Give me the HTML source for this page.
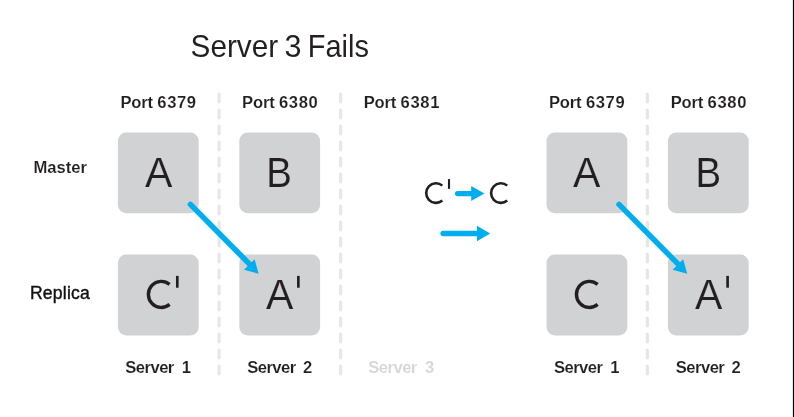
<!DOCTYPE html>
<html>
<head>
<meta charset="utf-8">
<title>Server 3 Fails</title>
<style>
  html, body { margin: 0; padding: 0; background: #ffffff; }
  body { width: 794px; height: 417px; overflow: hidden; }
  svg { display: block; will-change: transform; }
  text { font-family: "Liberation Sans", sans-serif; fill: #231f20; }
  .b { font-weight: bold; font-size: 16.6px; stroke: #ffffff; stroke-width: 0.12px; }
  .big { font-size: 40px; stroke: #d1d2d4; stroke-width: 0.12px; }
  .mid { font-size: 30px; stroke: #ffffff; stroke-width: 0.25px; }
  .box { fill: #d1d2d4; }
  .dash { stroke: #e6e7e8; stroke-width: 3.3; stroke-linecap: round; stroke-dasharray: 7.7 8.3; fill: none; }
  .arr { stroke: #00aeef; stroke-width: 5.3; stroke-linecap: round; fill: none; }
  .head { fill: #00aeef; }
  .prime { stroke: #231f20; stroke-width: 2.6; fill: none; }
  .dead { fill: #d5d6d8; }
</style>
</head>
<body>
<svg width="794" height="417" viewBox="0 0 794 417">
  <rect x="0" y="0" width="794" height="417" fill="#ffffff"/>

  <!-- title -->
  <text x="190.6" y="56.5" font-size="30.5" textLength="87.6" lengthAdjust="spacingAndGlyphs">Server</text>
  <text x="284.6" y="56.5" font-size="30.5">3</text>
  <text x="307.7" y="56.5" font-size="30.5" textLength="61.2" lengthAdjust="spacingAndGlyphs">Fails</text>

  <!-- dashed separators -->
  <line class="dash" x1="219.1" y1="94.15" x2="219.1" y2="375"/>
  <line class="dash" x1="340.6" y1="94.15" x2="340.6" y2="375"/>
  <line class="dash" x1="647.45" y1="94.15" x2="647.45" y2="375"/>

  <!-- port labels -->
  <text class="b" x="120.4" y="107.8" textLength="32.6" lengthAdjust="spacing">Port</text>
  <text class="b" x="157.3" y="107.8" textLength="38.8" lengthAdjust="spacing">6379</text>
  <text class="b" x="242.1" y="107.8" textLength="32.6" lengthAdjust="spacing">Port</text>
  <text class="b" x="279.0" y="107.8" textLength="38.8" lengthAdjust="spacing">6380</text>
  <text class="b" x="363.7" y="107.8" textLength="32.6" lengthAdjust="spacing">Port</text>
  <text class="b" x="400.6" y="107.8" textLength="38.8" lengthAdjust="spacing">6381</text>
  <text class="b" x="549.0" y="107.8" textLength="32.6" lengthAdjust="spacing">Port</text>
  <text class="b" x="585.9" y="107.8" textLength="38.8" lengthAdjust="spacing">6379</text>
  <text class="b" x="670.7" y="107.8" textLength="32.6" lengthAdjust="spacing">Port</text>
  <text class="b" x="707.6" y="107.8" textLength="38.8" lengthAdjust="spacing">6380</text>

  <!-- row labels -->
  <text class="b" x="33.4" y="172.8" textLength="53.6" lengthAdjust="spacing">Master</text>
  <text x="29.9" y="298.8" font-size="17.6" textLength="59.9" lengthAdjust="spacing" style="fill:#111111;stroke:#111111;stroke-width:0.4px">Replica</text>

  <!-- boxes -->
  <rect class="box" x="117.9" y="132.4" width="80.8" height="80.8" rx="8.5" ry="8.5"/>
  <rect class="box" x="117.9" y="254.6" width="80.8" height="80.8" rx="8.5" ry="8.5"/>
  <rect class="box" x="239.3" y="132.4" width="80.8" height="80.8" rx="8.5" ry="8.5"/>
  <rect class="box" x="239.3" y="254.6" width="80.8" height="80.8" rx="8.5" ry="8.5"/>
  <rect class="box" x="546.5" y="132.4" width="80.8" height="80.8" rx="8.5" ry="8.5"/>
  <rect class="box" x="546.5" y="254.6" width="80.8" height="80.8" rx="8.5" ry="8.5"/>
  <rect class="box" x="667.9" y="132.4" width="80.8" height="80.8" rx="8.5" ry="8.5"/>
  <rect class="box" x="667.9" y="254.6" width="80.8" height="80.8" rx="8.5" ry="8.5"/>
  <!-- box letters -->
  <text class="big" transform="translate(158.65,186.90) scale(1.025,1.058)" text-anchor="middle">A</text>
  <text class="big" transform="translate(279.05,186.90) scale(0.960,1.058)" text-anchor="middle">B</text>
  <text class="big" transform="translate(279.70,308.90) scale(1.025,1.058)" text-anchor="middle">A</text>
  <text class="big" transform="translate(586.65,186.90) scale(1.025,1.058)" text-anchor="middle">A</text>
  <text class="big" transform="translate(708.25,186.90) scale(0.960,1.058)" text-anchor="middle">B</text>
  <text class="big" transform="translate(708.55,308.90) scale(1.025,1.058)" text-anchor="middle">A</text>
  <path d="M169.59,284.40 A12.90,13.05 0 1 0 169.59,304.40" fill="none" stroke="#231f20" stroke-width="3.40"/>
  <path d="M597.64,284.40 A12.90,13.05 0 1 0 597.64,304.40" fill="none" stroke="#231f20" stroke-width="3.40"/>
  <rect x="175.98" y="275.90" width="2.65" height="11.80" fill="#231f20"/>
  <rect x="297.03" y="275.90" width="2.65" height="11.80" fill="#231f20"/>
  <rect x="726.27" y="275.90" width="2.65" height="11.80" fill="#231f20"/>

  <!-- middle: C' -> C -->
  <path d="M442.32,185.62 A9.80,9.80 0 1 0 442.32,200.58" fill="none" stroke="#231f20" stroke-width="2.6"/>
  <rect x="447.95" y="179.1" width="2.1" height="9.7" fill="#231f20"/>
  <path d="M507.22,185.62 A9.80,9.80 0 1 0 507.22,200.58" fill="none" stroke="#231f20" stroke-width="2.6"/>
  <line class="arr" x1="457.6" y1="193.55" x2="472" y2="193.55"/>
  <polygon class="head" points="471.2,186.05 484.4,193.55 471.2,201.05"/>
  <line class="arr" x1="443.05" y1="233.5" x2="478" y2="233.5"/>
  <polygon class="head" points="477.0,225.8 490.2,233.5 477.0,241.2"/>


  <!-- diagonal arrows -->
  <line class="arr" style="stroke-width:5.5" x1="190.40" y1="204.4" x2="252.00" y2="266.6"/>
  <polygon class="head" points="258.60,273.8 244.07,269.8 254.60,259.27"/>
  <line class="arr" style="stroke-width:5.5" x1="619.00" y1="204.4" x2="680.60" y2="266.6"/>
  <polygon class="head" points="687.20,273.8 672.67,269.8 683.20,259.27"/>


  <!-- server labels -->
  <text class="b" x="125.3" y="372.8" textLength="49.0" lengthAdjust="spacing">Server</text>
  <text class="b" x="181.7" y="372.8">1</text>
  <text class="b" x="247.2" y="372.8" textLength="49.0" lengthAdjust="spacing">Server</text>
  <text class="b" x="303.0" y="372.8">2</text>
  <text class="b dead" x="368.3" y="372.8" textLength="49.0" lengthAdjust="spacing">Server</text>
  <text class="b dead" x="425.0" y="372.8">3</text>
  <text class="b" x="553.9" y="372.8" textLength="49.0" lengthAdjust="spacing">Server</text>
  <text class="b" x="610.3" y="372.8">1</text>
  <text class="b" x="675.8" y="372.8" textLength="49.0" lengthAdjust="spacing">Server</text>
  <text class="b" x="731.6" y="372.8">2</text>

  <!-- right black edge -->
  <rect x="792.9" y="0" width="1.1" height="417" fill="#000000"/>
</svg>
</body>
</html>
